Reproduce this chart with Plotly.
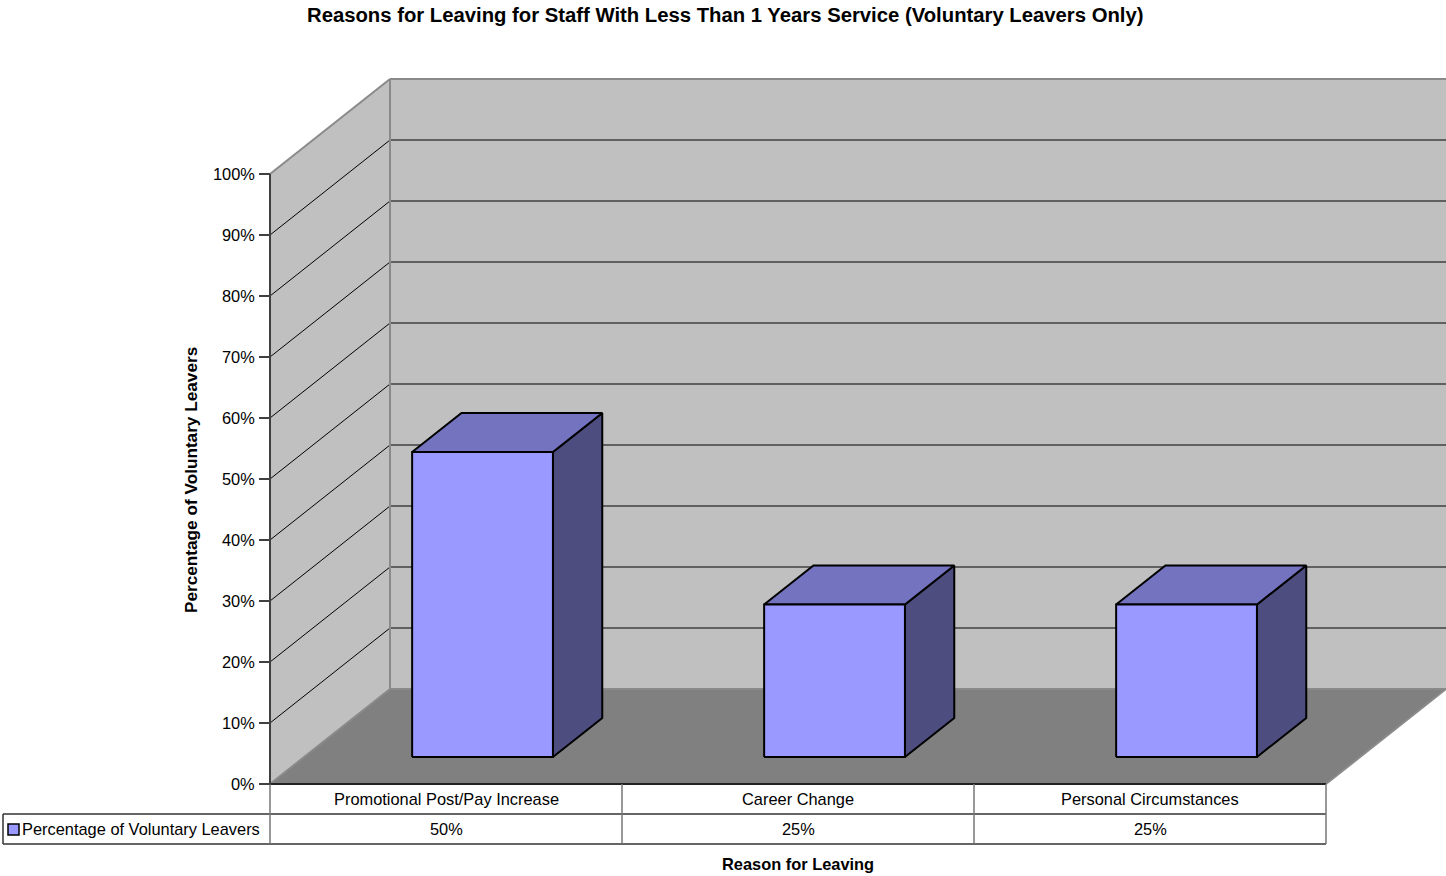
import plotly.graph_objects as go

# ---- data ----
categories = ["Promotional Post/Pay Increase", "Career Change", "Personal Circumstances"]
values = [50, 25, 25]
value_labels = ["50%", "25%", "25%"]
series_name = "Percentage of Voluntary Leavers"
y_ticks = [0, 10, 20, 30, 40, 50, 60, 70, 80, 90, 100]
y_tick_labels = ["0%", "10%", "20%", "30%", "40%", "50%", "60%", "70%", "80%", "90%", "100%"]
title = "Reasons for Leaving for Staff With Less Than 1 Years Service (Voluntary Leavers Only)"
x_title = "Reason for Leaving"
y_title = "Percentage of Voluntary Leavers"

# ---- geometry (axis units) ----
W, H = 1446, 876
col_px = 352.0          # px per category
pct_px = 6.1            # px per percent
x0_px, y0_px = 270, 784  # front-left origin in pixels
DX = 120 / col_px       # depth offset in category units
DY = 95 / pct_px        # depth offset in percent units
n = len(categories)
bar_w = 0.40
d_front, d_back = 0.284, 0.695
row_h = 30 / pct_px

xr = [-x0_px / col_px, (W - x0_px) / col_px]
yr = [(y0_px - H) / pct_px, y0_px / pct_px]


def P(x, y, d):
    return x + d * DX, y + d * DY


def poly(pts):
    xs = [p[0] for p in pts] + [pts[0][0]]
    ys = [p[1] for p in pts] + [pts[0][1]]
    return xs, ys


def path(pts):
    return "M " + " L ".join(f"{x},{y}" for x, y in pts) + " Z"


FONT = "Liberation Sans, Arial, sans-serif"
FS = 16.4
shapes = []
annotations = []

# left wall
shapes.append(dict(type="path", path=path([P(0, 0, 0), P(0, 100, 0), P(0, 100, 1), P(0, 0, 1)]),
                   fillcolor="#C0C0C0", line=dict(width=0), layer="below"))
# back wall
shapes.append(dict(type="path", path=path([P(0, 0, 1), P(0, 100, 1), P(n, 100, 1), P(n, 0, 1)]),
                   fillcolor="#C0C0C0", line=dict(width=0), layer="below"))
# floor
shapes.append(dict(type="path", path=path([P(0, 0, 0), P(n, 0, 0), P(n, 0, 1), P(0, 0, 1)]),
                   fillcolor="#808080", line=dict(width=0), layer="below"))

# gridlines
for v in y_ticks[1:-1]:
    a, b = P(0, v, 0), P(0, v, 1)
    c = P(n, v, 1)
    shapes.append(dict(type="line", x0=a[0], y0=a[1], x1=b[0], y1=b[1],
                       line=dict(color="#000000", width=1), layer="below"))
    shapes.append(dict(type="line", x0=b[0], y0=b[1], x1=c[0], y1=c[1],
                       line=dict(color="#000000", width=1), layer="below"))

# wall edges (grey)
for (p, q) in [(P(0, 100, 0), P(0, 100, 1)), (P(0, 100, 1), P(n, 100, 1)),
               (P(0, 0, 1), P(0, 100, 1)), (P(0, 0, 1), P(n, 0, 1)),
               (P(0, 0, 0), P(0, 0, 1)), (P(n, 0, 0), P(n, 0, 1))]:
    shapes.append(dict(type="line", x0=p[0], y0=p[1], x1=q[0], y1=q[1],
                       line=dict(color="#8A8A8A", width=2), layer="below"))

# table
tick_len = 11 / col_px
leg_left = -(x0_px - 3) / col_px
shapes.append(dict(type="line", x0=0, y0=0, x1=n, y1=0, line=dict(color="#222222", width=2)))
shapes.append(dict(type="line", x0=0, y0=-row_h, x1=n, y1=-row_h, line=dict(color="#333333", width=1.5)))
shapes.append(dict(type="line", x0=leg_left, y0=-2 * row_h, x1=n, y1=-2 * row_h, line=dict(color="#333333", width=1.5)))
shapes.append(dict(type="line", x0=leg_left, y0=-row_h, x1=0, y1=-row_h, line=dict(color="#333333", width=1.5)))
shapes.append(dict(type="line", x0=leg_left, y0=-row_h, x1=leg_left, y1=-2 * row_h, line=dict(color="#333333", width=1.5)))
for i in range(1, n + 1):
    shapes.append(dict(type="line", x0=i, y0=0, x1=i, y1=-2 * row_h, line=dict(color="#777777", width=1.5)))
shapes.append(dict(type="line", x0=0, y0=0, x1=0, y1=-2 * row_h, line=dict(color="#777777", width=1.5)))

# value axis line and ticks
shapes.append(dict(type="line", x0=0, y0=0, x1=0, y1=100, line=dict(color="#404040", width=2)))
for v, lab in zip(y_ticks, y_tick_labels):
    shapes.append(dict(type="line", x0=-tick_len, y0=v, x1=0, y1=v, line=dict(color="#404040", width=2)))
    annotations.append(dict(x=-tick_len - 2 / col_px, y=v, text=lab, showarrow=False, xanchor="right",
                            yanchor="middle", font=dict(family=FONT, size=FS, color="#000000")))

# legend swatch
sw0 = -(x0_px - 8) / col_px
sw1 = -(x0_px - 19) / col_px
shapes.append(dict(type="rect", x0=sw0, x1=sw1, y0=-row_h - 10 / pct_px, y1=-row_h - 21 / pct_px,
                   fillcolor="#9999FF", line=dict(color="#000000", width=1.5)))
annotations.append(dict(x=-(x0_px - 20) / col_px, y=-1.5 * row_h, text=series_name, showarrow=False,
                        xanchor="left", yanchor="middle", font=dict(family=FONT, size=FS, color="#000000")))

for i, (c, vl) in enumerate(zip(categories, value_labels)):
    annotations.append(dict(x=i + 0.5, y=-0.5 * row_h, text=c, showarrow=False, xanchor="center",
                            yanchor="middle", font=dict(family=FONT, size=FS, color="#000000")))
    annotations.append(dict(x=i + 0.5, y=-1.5 * row_h, text=vl, showarrow=False, xanchor="center",
                            yanchor="middle", font=dict(family=FONT, size=FS, color="#000000")))

# titles
annotations.append(dict(xref="paper", yref="paper", x=725 / W, y=1 - 15 / H, text=f"<b>{title}</b>",
                        showarrow=False, xanchor="center", yanchor="middle",
                        font=dict(family=FONT, size=20.3, color="#000000")))
annotations.append(dict(xref="paper", yref="paper", x=798 / W, y=1 - 864 / H, text=f"<b>{x_title}</b>",
                        showarrow=False, xanchor="center", yanchor="middle",
                        font=dict(family=FONT, size=16.4, color="#000000")))
annotations.append(dict(xref="paper", yref="paper", x=191 / W, y=1 - 480 / H, text=f"<b>{y_title}</b>",
                        showarrow=False, xanchor="center", yanchor="middle", textangle=-90,
                        font=dict(family=FONT, size=17.2, color="#000000")))

fig = go.Figure()

# bars
for i, v in enumerate(values):
    cx = i + 0.5 + 0.007
    l, r = cx - bar_w / 2, cx + bar_w / 2
    front = [P(l, 0, d_front), P(l, v, d_front), P(r, v, d_front), P(r, 0, d_front)]
    top = [P(l, v, d_front), P(l, v, d_back), P(r, v, d_back), P(r, v, d_front)]
    side = [P(r, 0, d_front), P(r, v, d_front), P(r, v, d_back), P(r, 0, d_back)]
    for pts, col in [(side, "#4D4D80"), (top, "#7373BF"), (front, "#9999FF")]:
        xs, ys = poly(pts)
        fig.add_trace(go.Scatter(x=xs, y=ys, mode="lines", fill="toself", fillcolor=col,
                                 line=dict(color="#000000", width=2), hoverinfo="skip",
                                 showlegend=False))

fig.update_layout(
    width=W, height=H,
    margin=dict(l=0, r=0, t=0, b=0),
    paper_bgcolor="#FFFFFF", plot_bgcolor="#FFFFFF",
    xaxis=dict(range=xr, visible=False, fixedrange=True),
    yaxis=dict(range=yr, visible=False, fixedrange=True),
    shapes=shapes, annotations=annotations,
    showlegend=False,
)

fig.write_html("out.html", config={"displayModeBar": False})
